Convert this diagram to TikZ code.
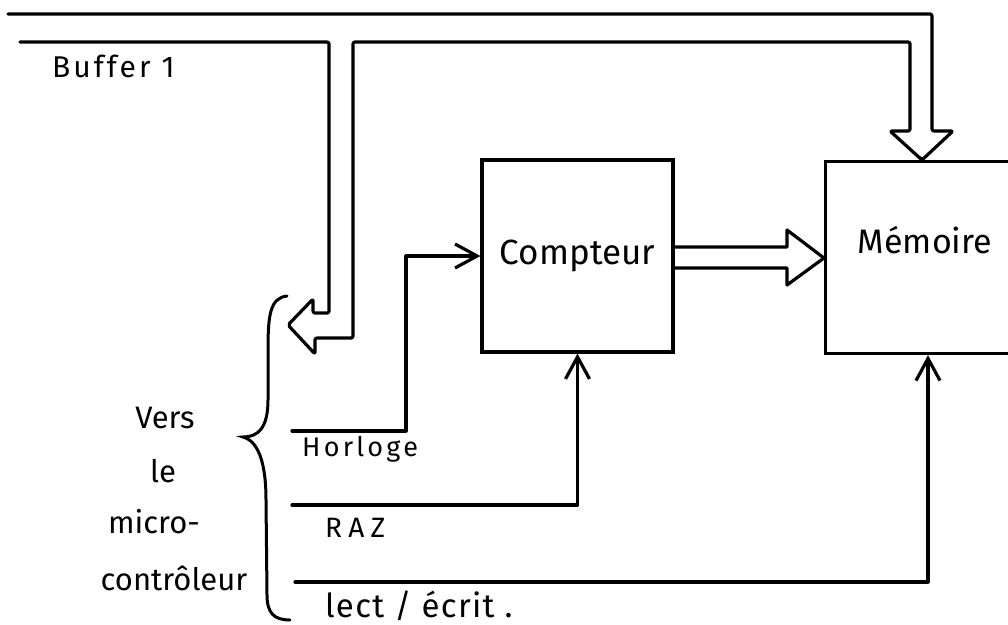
\documentclass[tikz,border=0pt]{standalone}
\usepackage{fontspec}
\setmainfont{Fira Sans}
\usetikzlibrary{arrows.meta}
\tikzset{
  wire/.style={line width=3.2pt, line join=round, line cap=round},
  arr/.style={wire, -{Straight Barb[length=22pt, width=24pt, line width=3.2pt]}},
  box/.style={draw, line width=3.2pt, inner sep=0pt},
  lbl/.style={inner sep=0pt, anchor=base},
}
\begin{document}
\begin{tikzpicture}[x=1pt, y=-1pt]
\useasboundingbox (0,0) rectangle (1008,624);

% boxes
\node[box, minimum width=191pt, minimum height=192pt, font=\fontsize{35}{40}\selectfont] (cpt) at (577.5,256) {Compteur};
\node[box, minimum width=220pt, minimum height=192pt, anchor=north west] (mem) at (824,160) {};
\node[lbl, font=\fontsize{34}{40}\selectfont] (memtxt) at (925,253) {Mémoire};

% bus: from left edge to Mémoire top, with branch towards the microcontroller
\coordinate (busTopL) at (8,14);
\coordinate (busBotL) at (20,42);
\draw[wire, rounded corners=2pt]
  (busTopL) -- (932,14) -- (932,131) -- (953,131) -- (mem.north -| 922,0) -- (890,131) -- (910,131)
  -- (910,42) -- (353,42) -- (353,338) -- (315,338) -- (315,354) -- (288,325)
  -- (313,299) -- (313,313) -- (329,313) -- (329,42) -- (busBotL);

% bus Compteur -> Mémoire
\draw[wire]
  (cpt.east |- 0,247) -- (787,247) -- (787,230) -- (mem.west |- 0,258) -- (787,285) -- (787,268) -- (cpt.east |- 0,268);

% control lines
\coordinate (hz) at (292,431);
\coordinate (hzc) at (406,431);
\draw[arr] (hz) -- (hzc) -- (hzc |- cpt.west) -- (cpt.west);

\coordinate (raz) at (292,505);
\coordinate (razc) at (577.5,505);
\draw[arr] (raz) -- (razc) -- (cpt.south);

\coordinate (le) at (295,582);
\coordinate (lec) at (928,582);
\draw[arr] (le) -- (lec) -- (lec |- mem.south);

% brace
\draw[line width=3pt, line cap=round] (287,296) .. controls (270,298) and (268,315) .. (268,350)
  -- (268,400) .. controls (268,428) and (258,437) .. (243,437)
  .. controls (258,441) and (266,462) .. (266,500)
  -- (267,595) .. controls (267,613) and (274,620) .. (290,620);

% labels
\node[lbl, anchor=base west, font=\fontsize{30}{32}\selectfont\addfontfeature{LetterSpace=10}] (buf) at (52,77) {Buffer 1};
\node[lbl, anchor=base west, font=\fontsize{27}{28}\selectfont\addfontfeature{LetterSpace=12}] (hor) at (302,456) {Horloge};
\node[lbl, anchor=base west, font=\fontsize{28}{28}\selectfont\addfontfeature{LetterSpace=22}] (razt) at (325,537) {RAZ};
\node[lbl, anchor=base west, font=\fontsize{33}{36}\selectfont\addfontfeature{LetterSpace=4}] (lect) at (325,617) {lect / écrit .};

\node[lbl, font=\fontsize{31}{36}\selectfont] (v1) at (165,428) {Vers};
\node[lbl, font=\fontsize{31}{36}\selectfont] (v2) at (163,482) {le};
\node[lbl, font=\fontsize{31}{36}\selectfont] (v3) at (154,533) {micro-};
\node[lbl, font=\fontsize{31}{36}\selectfont] (v4) at (174,590) {contrôleur};
\end{tikzpicture}
\end{document}
